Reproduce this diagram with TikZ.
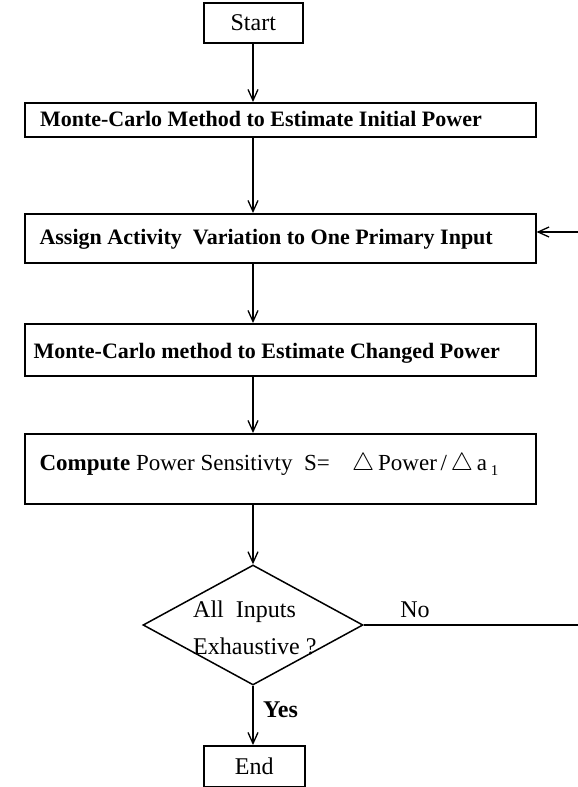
\documentclass[tikz,border=0pt]{standalone}
\usepackage{fontspec}
\setmainfont{Liberation Serif}
\usetikzlibrary{arrows.meta,shapes.geometric}
\begin{document}
\begin{tikzpicture}[x=1pt,y=-1pt,
  box/.style={draw, line width=1.5pt, rectangle, inner sep=0pt, anchor=north west},
  txt/.style={inner sep=0pt, font=\fontsize{22}{26}\selectfont\bfseries},
  reg/.style={inner sep=0pt, font=\fontsize{23}{27}\selectfont},
  conn/.style={line width=1.3pt},
  arr/.style={conn, -{Straight Barb[length=11pt,width=10pt,line width=1.3pt]}}]
\useasboundingbox (0,0) rectangle (578,787);
\fill[white] (0,0) rectangle (578,787);
\coordinate (col) at (253,0);
% boxes
\node[box, minimum width=99pt, minimum height=40pt, font=\fontsize{24}{28}\selectfont] (start) at (203,2) {Start};
\node[box, minimum width=511pt, minimum height=34pt] (b1) at (24,102) {};
\node[box, minimum width=511pt, minimum height=49pt] (b2) at (24,213) {};
\node[box, minimum width=511pt, minimum height=52pt] (b3) at (24,323) {};
\node[box, minimum width=511pt, minimum height=70pt] (b4) at (24,433) {};
\node[draw, line width=1.5pt, diamond, inner sep=0pt, minimum width=220pt, minimum height=120pt] (dia) at (253,625) {};
\node[box, minimum width=101pt, minimum height=41pt, font=\fontsize{24}{28}\selectfont] (end) at (203,745) {End};
% texts
\node[txt, anchor=base east] (t1) at (482,126) {Monte-Carlo Method to Estimate Initial Power};
\node[txt, anchor=base east] (t2) at (493,244) {Assign Activity\ \ Variation to One Primary Input};
\node[txt, anchor=base east] (t3) at (500,358) {Monte-Carlo method to Estimate Changed Power};
\node[reg, anchor=base east] (t4) at (330,470) {\textbf{Compute} Power Sensitivty\ \ S=};
\node[reg, anchor=base west] (t4b) at (352,470) {$\triangle$\,Power\,/\,$\triangle$\,a\,\raisebox{-0.5ex}{\fontsize{15}{17}\selectfont 1}};
\node[reg, anchor=base west, font=\fontsize{24}{28}\selectfont] (d1) at (193,617) {All\ \ Inputs};
\node[reg, anchor=base west, font=\fontsize{24}{28}\selectfont] (d2) at (193,654) {Exhaustive ?};
\node[reg, anchor=base, font=\fontsize{24}{28}\selectfont] (no) at (415,617) {No};
\node[reg, anchor=base west, font=\fontsize{24}{28}\selectfont\bfseries] (yes) at (263,717) {Yes};
% connectors
\coordinate (r2) at (578,232);
\coordinate (r5) at (578,625);
\draw[arr] (start.south -| col) -- (b1.north -| col);
\draw[arr] (b1.south -| col) -- (b2.north -| col);
\draw[arr] (b2.south -| col) -- (b3.north -| col);
\draw[arr] (b3.south -| col) -- (b4.north -| col);
\draw[arr] (b4.south -| col) -- (dia.north);
\draw[arr] (dia.south) -- (end.north -| col);
\draw[conn] (dia.east) -- (r5);
\draw[arr] (r2) -- (r2 -| b2.east);
\end{tikzpicture}
\end{document}
